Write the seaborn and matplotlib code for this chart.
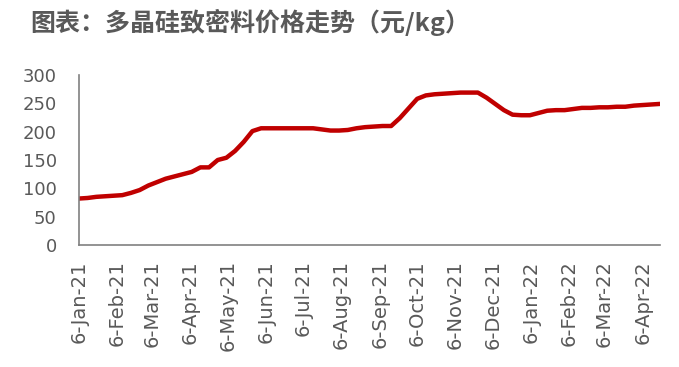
import numpy as np
import pandas as pd
import seaborn as sns
import matplotlib.pyplot as plt
from matplotlib import dates

sns.set_style("white")
plt.rcParams['font.family'] = ['Noto Sans CJK SC', 'DejaVu Sans']

# weekly price of dense polysilicon (yuan/kg)
start_date = '2021-01-06'
prices = [82, 83, 85, 86, 87, 88, 92, 97, 105, 111,
          117, 121, 125, 129, 137, 137, 150, 154, 166, 182,
          201, 206, 206, 206, 206, 206, 206, 206, 204, 202,
          202, 203, 206, 208, 209, 210, 210, 224, 241, 258,
          264, 266, 267, 268, 269, 269, 269, 260, 249, 238,
          230, 229, 229, 233, 237, 238, 238, 240, 242, 242,
          243, 243, 244, 244, 246, 247, 248, 249]
tick_dates = pd.date_range('2021-01-01', '2022-04-01', freq='MS') + pd.Timedelta(days=5)
title = '图表：多晶硅致密料价格走势（元/kg）'

df = pd.DataFrame({'date': pd.date_range(start_date, periods=len(prices), freq='7D'),
                   'price': prices})

fig = plt.figure(figsize=(6.79, 3.67), dpi=100)
ax = fig.add_axes([0.1163, 0.3324, 0.972 - 0.1163, 0.7956 - 0.3324])

sns.lineplot(data=df, x='date', y='price', color='#C00000', lw=3.2, ax=ax)

ax.set_xlim(df['date'].iloc[0], df['date'].iloc[-1])
ax.set_ylim(0, 300)
ax.set_yticks(range(0, 301, 50))
ax.set_xticks(tick_dates)
ax.xaxis.set_major_formatter(dates.DateFormatter('%-d-%b-%y'))
ax.tick_params(axis='x', rotation=90, labelsize=14, colors='#595959', length=0, pad=11)
ax.tick_params(axis='y', labelsize=13, colors='#595959', length=0, pad=16)
for lbl in ax.get_xticklabels() + ax.get_yticklabels():
    lbl.set_family('DejaVu Sans')
ax.set_xlabel('')
ax.set_ylabel('')

sns.despine(ax=ax)
for s in ['left', 'bottom']:
    ax.spines[s].set_color('#808080')
    ax.spines[s].set_linewidth(1.2)

fig.text(0.044, 0.94, title, fontsize=18, fontweight='bold', color='#595959',
         va='center', ha='left')

plt.savefig('out.png', dpi=100)
